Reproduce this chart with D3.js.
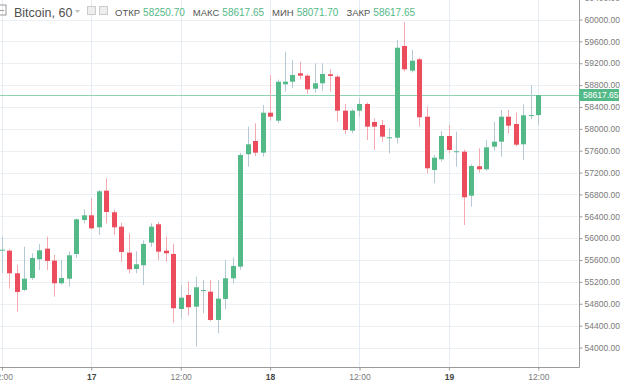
<!DOCTYPE html>
<html>
<head>
<meta charset="utf-8">
<script src="https://cdnjs.cloudflare.com/ajax/libs/d3/7.8.5/d3.min.js"></script>
<style>
  body { margin: 0; background: #fff; }
  svg { display: block; font-family: "Liberation Sans", Arial, sans-serif; }
</style>
</head>
<body>
<div id="viz-container"></div>
<script>
// hourly candles, 16th 12:00 -> 19th 12:00
let opens  = [55780,55771,55358,55053,55272,55614,55808,55590,55175,55259,55711,56333,56418,56199,56869,56474,56210,55735,55437,55504,55918,56254,55771,55711,54705,54961,54747,55040,55021,54504,54888,55266,55479,57535,57778,57564,58295,58149,58815,58862,59016,58972,58734,58833,58998,58954,58332,57966,58332,58455,58125,58070,57838,57838,59515,59064,59272,58222,57247,57443,57869,57582,57582,56777,57315,57260,57674,57765,58222,58089,57717,58240,58250.70];
let highs  = [56028,55800,55510,55845,55724,55894,56028,55693,55601,55760,56360,56528,56730,56880,57095,56520,56280,56090,55760,55960,56272,56300,56028,55900,55144,55205,55296,55235,55235,55235,55601,55650,57560,58039,58101,58436,58985,58900,59411,59259,59228,59000,59198,59198,59089,58980,58455,58360,58559,58480,58190,58162,58010,59625,59950,59442,59300,58405,57520,57960,58070,57948,57620,57350,57644,57796,58131,58345,58345,58295,58449,58802,58617.65];
let lows   = [55360,55080,54656,55030,55240,55418,55418,54930,55150,55113,55640,56272,56160,56058,56272,56058,55570,55358,55358,55144,55845,55601,55570,54454,54535,54590,54016,54626,54480,54260,54700,55175,55420,57308,57500,57491,58150,58100,58680,58742,58906,58637,58660,58690,58680,58131,57906,57920,58222,57796,57613,57765,57553,57735,59050,59030,58039,57187,57004,57400,57550,57308,56241,56576,57200,57230,57600,57491,57918,57680,57430,58175,58071.70];
let closes = [55790,55358,55016,55259,55638,55778,55583,55175,55272,55687,56345,56418,56180,56857,56479,56199,55748,55431,55522,55894,56210,55753,55724,54718,54912,54736,55102,55050,54504,54893,55266,55492,57522,57717,57564,58295,58222,58862,58862,58985,58972,58723,58833,59003,58967,58332,57979,58332,58455,58040,58040,57857,57845,59484,59089,59246,58211,57278,57472,57869,57613,57590,56748,57320,57260,57662,57765,58222,58058,57710,58248,58250.70,58617.65];

let startTime = new Date(2021, 2, 16, 12);
let endTime = new Date(2021, 2, 19, 12);

let yTicks = [54000,54400,54800,55200,55600,56000,56400,56800,57200,57600,58000,58400,58800,59200,59600,60000,60400];
let xTicks = ["2021-03-16 12:00","2021-03-17 00:00","2021-03-17 12:00","2021-03-18 00:00","2021-03-18 12:00","2021-03-19 00:00","2021-03-19 12:00"];
let xTickLabels = ["12:00","17","12:00","18","12:00","19","12:00"];

let headerLabels = ["ОТКР","МАКС","МИН","ЗАКР"];
let headerValues = ["58250.70","58617.65","58071.70","58617.65"];
let lastPrice = 58617.65;

let upColor = "#53b987";
let downColor = "#eb4d5c";

let plotRight = 579;
let plotBottom = 367;

let viz = d3.select("#viz-container")
              .append("svg")
                  .attr("width", 620)
                  .attr("height", 383)
;

let parseTime = d3.timeParse("%Y-%m-%d %H:%M");

let x = d3.scaleTime()
            .domain([startTime, endTime])
            .range([1.9, 538.3])
;
let y = d3.scaleLinear()
            .domain([54000, 60000])
            .range([347.5, 19.5])
;

// grid
viz.append("g").selectAll("line").data(yTicks).enter().append("line")
    .attr("x1", 0)
    .attr("x2", plotRight)
    .attr("y1", d => Math.round(y(d)) + 0.5)
    .attr("y2", d => Math.round(y(d)) + 0.5)
    .attr("stroke", "#eceff3")
;
viz.append("g").selectAll("line").data(xTicks).enter().append("line")
    .attr("x1", d => Math.round(x(parseTime(d))) + 0.5)
    .attr("x2", d => Math.round(x(parseTime(d))) + 0.5)
    .attr("y1", 0)
    .attr("y2", plotBottom)
    .attr("stroke", "#e6ecf4")
;

// price line
viz.append("line")
    .attr("x1", 0)
    .attr("x2", plotRight)
    .attr("y1", Math.round(y(lastPrice)) + 0.5)
    .attr("y2", Math.round(y(lastPrice)) + 0.5)
    .attr("stroke", "#8ed2b1")
;

// candles
let candleData = opens.map((o, i) => ({
  t: d3.timeHour.offset(startTime, i),
  o: o, h: highs[i], l: lows[i], c: closes[i]
}));

let candles = viz.append("g").selectAll("g").data(candleData).enter().append("g");

candles.append("line")
    .attr("x1", d => Math.round(x(d.t)) + 0.5)
    .attr("x2", d => Math.round(x(d.t)) + 0.5)
    .attr("y1", d => y(d.h))
    .attr("y2", d => y(d.l))
    .attr("stroke", d => d.c >= d.o ? "#b4c9d3" : "#f2a9b0")
;
candles.append("rect")
    .attr("x", d => Math.round(x(d.t)) - 2)
    .attr("width", 5)
    .attr("y", d => y(Math.max(d.o, d.c)))
    .attr("height", d => Math.max(1, Math.abs(y(d.o) - y(d.c))))
    .attr("fill", d => d.c >= d.o ? upColor : downColor)
;

// right axis
let yAxis = d3.axisRight(y)
                .tickValues(yTicks)
                .tickFormat(d3.format(".2f"))
                .tickSize(3)
                .tickPadding(2)
;
let yg = viz.append("g")
    .attr("transform", "translate(" + (plotRight + 0.5) + ",0)")
    .call(yAxis)
;
yg.select(".domain").attr("d", "M0,0V" + (plotBottom + 0.5)).attr("stroke", "#9a9a9a");
yg.selectAll(".tick line").attr("stroke", "#9a9a9a");
yg.selectAll(".tick text")
    .attr("fill", "#7a7a7a")
    .style("font-size", "8.5px")
    .style("font-family", "'Liberation Sans', Arial, sans-serif")
;

// bottom axis
let xAxis = d3.axisBottom(x)
                .tickValues(xTicks.map(parseTime))
                .tickFormat((d, i) => xTickLabels[i])
                .tickSize(3)
                .tickPadding(3)
;
let xg = viz.append("g")
    .attr("transform", "translate(0," + (plotBottom + 0.5) + ")")
    .call(xAxis)
;
xg.select(".domain").attr("d", "M0,0H" + (plotRight + 0.5)).attr("stroke", "#9a9a9a");
xg.selectAll(".tick line").attr("stroke", "#9a9a9a");
xg.selectAll(".tick text")
    .attr("fill", (d, i) => xTickLabels[i].length < 3 ? "#444" : "#7a7a7a")
    .style("font-weight", (d, i) => xTickLabels[i].length < 3 ? "bold" : "normal")
    .style("font-size", "8.5px")
    .style("font-family", "'Liberation Sans', Arial, sans-serif")
;

// last price tag
let tagY = Math.round(y(lastPrice));
viz.append("rect")
    .attr("x", plotRight)
    .attr("y", tagY - 6)
    .attr("width", 40)
    .attr("height", 12)
    .attr("fill", upColor)
;
viz.append("text")
    .attr("x", plotRight + 4)
    .attr("y", tagY + 3)
    .attr("fill", "#fff")
    .style("font-size", "8.5px")
    .text(d3.format(".2f")(lastPrice))
;

// header / legend
let head = viz.append("g");
head.append("rect")
    .attr("x", -4).attr("y", 5).attr("width", 10).attr("height", 10)
    .attr("fill", "none").attr("stroke", "#999")
;
head.append("line")
    .attr("x1", -2).attr("x2", 4).attr("y1", 10.5).attr("y2", 10.5)
    .attr("stroke", "#999")
;
head.append("text")
    .attr("x", 14)
    .attr("y", 16.5)
    .attr("fill", "#4f4f4f")
    .style("font-size", "12.5px")
    .text("Bitcoin, 60")
;
head.append("path")
    .attr("d", "M75,10 L80,10 L77.5,13 Z")
    .attr("fill", "#bbb")
;
head.append("rect").attr("x", 87.5).attr("y", 6.5).attr("width", 8).attr("height", 8)
    .attr("fill", "#eee").attr("stroke", "#ccc");
head.append("rect").attr("x", 99.5).attr("y", 6.5).attr("width", 8).attr("height", 8)
    .attr("fill", "#eee").attr("stroke", "#ccc");

let hx = 115;
headerLabels.forEach((lab, i) => {
  let t1 = head.append("text")
      .attr("x", hx).attr("y", 15.7)
      .attr("fill", "#555")
      .style("font-size", "9.5px")
      .text(lab);
  hx += t1.node().getComputedTextLength() + 3;
  let t2 = head.append("text")
      .attr("x", hx).attr("y", 15.7)
      .attr("fill", upColor)
      .style("font-size", "10px")
      .text(headerValues[i]);
  hx += t2.node().getComputedTextLength() + 8;
});
</script>
</body>
</html>
